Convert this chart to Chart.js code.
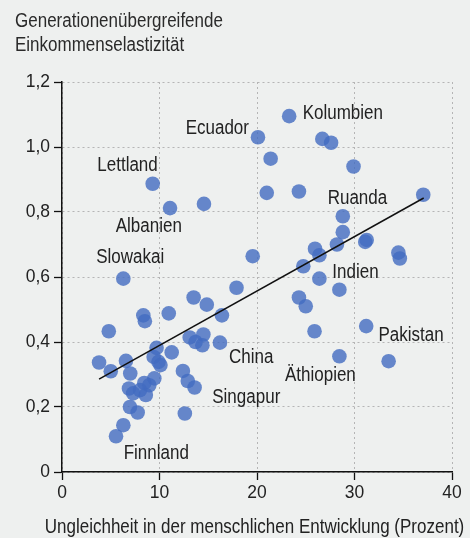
<!DOCTYPE html>
<html>
<head>
<meta charset="utf-8">
<script src="https://cdn.jsdelivr.net/npm/chart.js@4/dist/chart.umd.min.js"></script>
<style>
  html, body { margin: 0; padding: 0; background: #eef0ef; }
  #wrap { width: 470px; height: 538px; }
</style>
</head>
<body>
<div id="wrap"><canvas id="c" width="470" height="538"></canvas></div>
<script>
// Ungleichheit in der menschlichen Entwicklung (Prozent)
const xValues = [
  23.3, 20.1, 26.7, 27.6, 21.4, 29.9, 21.0, 24.3, 37.05, 28.8,
  28.8, 31.25, 31.1, 25.95, 26.4, 28.2, 34.5, 34.65, 19.56, 24.75,
  26.4, 28.45, 24.3, 25.0, 25.9, 31.2, 28.45, 33.5, 9.3, 11.08,
  14.56, 6.29, 17.9, 13.5, 14.85, 16.4, 8.34, 8.5, 10.95, 4.8,
  13.1, 13.7, 14.5, 14.4, 16.2, 9.7, 9.4, 9.9, 10.1, 11.25,
  3.8, 6.56, 5.0, 7.0, 12.4, 12.9, 13.6, 9.47, 8.44, 8.95,
  6.87, 7.3, 8.0, 8.6, 6.97, 7.76, 12.6, 6.29, 5.54
];
// Generationenübergreifende Einkommenselastizität
const yValues = [
  1.095, 1.03, 1.025, 1.013, 0.964, 0.94, 0.859, 0.863, 0.853, 0.787,
  0.738, 0.714, 0.708, 0.687, 0.667, 0.70, 0.675, 0.657, 0.664, 0.633,
  0.595, 0.561, 0.537, 0.51, 0.433, 0.449, 0.356, 0.341, 0.887, 0.812,
  0.825, 0.595, 0.567, 0.537, 0.515, 0.482, 0.482, 0.464, 0.488, 0.433,
  0.414, 0.40, 0.423, 0.39, 0.398, 0.382, 0.354, 0.339, 0.329, 0.368,
  0.337, 0.342, 0.31, 0.303, 0.311, 0.28, 0.26, 0.288, 0.274, 0.267,
  0.257, 0.242, 0.252, 0.237, 0.20, 0.183, 0.18, 0.144, 0.11
];
// Regression line end points
const trendX = [3.8, 37.1];
const trendY = [0.286, 0.843];

// Country annotations (text, x, y in data units)
const labelTexts = ['Kolumbien', 'Ecuador', 'Lettland', 'Albanien', 'Slowakai', 'Ruanda',
                    'Indien', 'China', 'Pakistan', 'Äthiopien', 'Singapur', 'Finnland'];
const labelX = [28.8, 15.93, 6.72, 8.9, 7.0, 30.3, 30.1, 19.4, 35.8, 26.5, 18.9, 9.67];
const labelY = [1.104, 1.058, 0.943, 0.756, 0.66, 0.841, 0.615, 0.352, 0.421, 0.298, 0.229, 0.057];

const xTicks = [0, 10, 20, 30, 40];
const yTicks = [0, 0.2, 0.4, 0.6, 0.8, 1.0, 1.2];
const xAxisTitle = 'Ungleichheit in der menschlichen Entwicklung (Prozent)';
const yAxisTitle = ['Generationenübergreifende', 'Einkommenselastizität'];

const FONT = '"Liberation Sans", Arial, sans-serif';
const TXT = '#222222';

// Condensed look: horizontal compression of text depending on font size
const condense = { '21': 0.86, '20': 0.85, '19': 0.92 };
function sxFor(ctx) {
  const m = /(\d+)(?:\.\d+)?px/.exec(ctx.font);
  return (m && condense[m[1]]) || 1;
}
const P = CanvasRenderingContext2D.prototype;
const origFill = P.fillText, origMeasure = P.measureText;
P.fillText = function (text, x, y, maxWidth) {
  const sx = sxFor(this);
  if (sx === 1) {
    return maxWidth === undefined ? origFill.call(this, text, x, y) : origFill.call(this, text, x, y, maxWidth);
  }
  this.save();
  this.translate(x, y);
  this.scale(sx, 1);
  if (maxWidth === undefined) origFill.call(this, text, 0, 0);
  else origFill.call(this, text, 0, 0, maxWidth / sx);
  this.restore();
};
P.measureText = function (text) {
  const m = origMeasure.call(this, text);
  const sx = sxFor(this);
  if (sx === 1) return m;
  return {
    width: m.width * sx,
    actualBoundingBoxLeft: m.actualBoundingBoxLeft * sx,
    actualBoundingBoxRight: m.actualBoundingBoxRight * sx,
    actualBoundingBoxAscent: m.actualBoundingBoxAscent,
    actualBoundingBoxDescent: m.actualBoundingBoxDescent,
    fontBoundingBoxAscent: m.fontBoundingBoxAscent,
    fontBoundingBoxDescent: m.fontBoundingBoxDescent
  };
};

const labelPlugin = {
  id: 'countryLabels',
  afterDatasetsDraw(chart) {
    const {ctx, scales, chartArea} = chart;
    ctx.save();
    ctx.font = '20px ' + FONT;
    ctx.fillStyle = TXT;
    ctx.textAlign = 'center';
    ctx.textBaseline = 'middle';
    labelTexts.forEach((t, i) => {
      ctx.fillText(t, scales.x.getPixelForValue(labelX[i]), scales.y.getPixelForValue(labelY[i]));
    });
    // x axis title (drawn here so it is not squeezed to the axis width)
    ctx.font = '20px ' + FONT;
    ctx.fillText(xAxisTitle, (chartArea.left + chartArea.right) / 2 - 2.5, chart.height - 11);
    ctx.restore();
  }
};

new Chart(document.getElementById('c'), {
  type: 'scatter',
  data: {
    datasets: [
      {
        type: 'line',
        data: trendX.map((x, i) => ({x, y: trendY[i]})),
        borderColor: '#111',
        borderWidth: 1.5,
        pointRadius: 0,
        fill: false,
        order: 0
      },
      {
        data: xValues.map((x, i) => ({x, y: yValues[i]})),
        backgroundColor: 'rgba(66,108,192,0.8)',
        borderWidth: 0,
        pointRadius: 7.3,
        pointHoverRadius: 7.3,
        order: 1
      }
    ]
  },
  options: {
    responsive: false,
    animation: false,
    layout: { padding: { left: 15, right: 18, top: 0, bottom: 0 } },
    plugins: {
      legend: { display: false },
      tooltip: { enabled: false },
      title: {
        display: true,
        text: yAxisTitle,
        align: 'start',
        color: '#2a2a2a',
        font: { family: FONT, size: 20, weight: 'normal', lineHeight: 1.2 },
        padding: { top: 9, bottom: 25 }
      }
    },
    scales: {
      x: {
        type: 'linear',
        min: 0, max: 40,
        afterBuildTicks: (s) => { s.ticks = xTicks.map(v => ({value: v})); },
        afterFit: (s) => { s.height = 66; },
        ticks: { color: TXT, font: { family: FONT, size: 19 }, padding: 1 },
        grid: { color: '#b5b5b5', lineWidth: 1, tickColor: '#111', tickLength: 8, tickWidth: 1.3 },
        border: { display: true, color: '#111', width: 1.5, dash: [2, 3] },
        title: { display: false }
      },
      y: {
        type: 'linear',
        min: 0, max: 1.2,
        afterBuildTicks: (s) => { s.ticks = yTicks.map(v => ({value: v})); },
        afterFit: (s) => { s.width = 47; },
        ticks: {
          color: TXT, font: { family: FONT, size: 19 }, padding: 4,
          callback: (v) => v === 0 ? '0' : v.toFixed(1).replace('.', ',')
        },
        grid: { color: '#b5b5b5', lineWidth: 1, tickColor: '#111', tickLength: 8, tickWidth: 1.3 },
        border: { display: true, color: '#111', width: 1.5, dash: [2, 3] }
      }
    }
  },
  plugins: [labelPlugin]
});
</script>
</body>
</html>
